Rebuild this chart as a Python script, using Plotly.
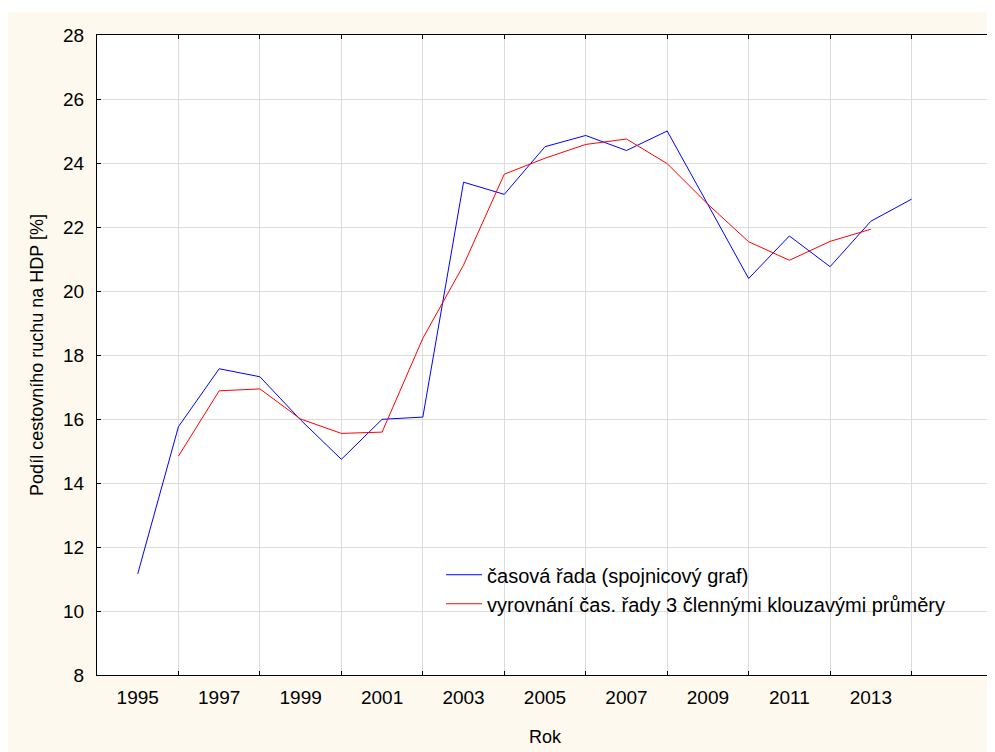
import plotly.graph_objects as go

years = list(range(1995, 2015))
casova_rada = [11.16, 15.76, 17.57, 17.32, 15.97, 14.74, 15.99, 16.06, 23.40, 23.02,
               24.51, 24.86, 24.39, 25.00, 22.70, 20.39, 21.72, 20.76, 22.18, 22.87]
ma_years = list(range(1996, 2014))
klouzave_prumery = [14.84, 16.88, 16.94, 16.00, 15.55, 15.59, 18.52, 20.81, 23.65, 24.15,
                    24.58, 24.75, 23.98, 22.71, 21.54, 20.96, 21.55, 21.93]
x_labels = [1995, 1997, 1999, 2001, 2003, 2005, 2007, 2009, 2011, 2013]
x_grid = [1996, 1998, 2000, 2002, 2004, 2006, 2008, 2010, 2012, 2014]

FONT = "Liberation Sans, Arial, sans-serif"
GRID = "#DCDCDC"
CREAM = "#FEF9EE"

fig = go.Figure()
fig.add_trace(go.Scatter(x=years, y=casova_rada, mode="lines",
                         line=dict(color="#0000FF", width=1),
                         name="časová řada (spojnicový graf)"))
fig.add_trace(go.Scatter(x=ma_years, y=klouzave_prumery, mode="lines",
                         line=dict(color="#FF0000", width=1),
                         name="vyrovnání čas. řady 3 člennými klouzavými průměry"))

fig.update_layout(
    width=987, height=744,
    margin=dict(l=89, r=2, t=27, b=77, autoexpand=False),
    paper_bgcolor=CREAM, plot_bgcolor="white",
    font=dict(family=FONT, size=18, color="black"),
    showlegend=True,
    legend=dict(x=0.384, y=0.134, xanchor="left", yanchor="middle",
                bgcolor="rgba(0,0,0,0)", borderwidth=0, itemwidth=36,
                font=dict(size=20), tracegroupgap=0),
    xaxis=dict(range=[1994, 2016], tickmode="array", tickvals=x_labels,
               ticktext=[str(v) for v in x_labels], automargin=False,
               ticks="", showgrid=False, zeroline=False,
               showline=True, linecolor="black", linewidth=1, mirror="ticks",
               ticklabelstandoff=5, tickfont=dict(size=19),
               minor=dict(tickmode="array", tickvals=x_grid, ticks="inside",
                          ticklen=4, tickcolor="black", showgrid=True,
                          gridcolor=GRID, gridwidth=1),
               title=dict(text="Rok", standoff=23, font=dict(size=18))),
    yaxis=dict(range=[8, 28], tickmode="linear", tick0=8, dtick=2,
               ticks="inside", ticklen=4, tickcolor="black", automargin=False,
               showgrid=True, gridcolor=GRID, gridwidth=1, zeroline=False,
               showline=True, linecolor="black", linewidth=1, mirror="ticks",
               ticklabelstandoff=8, tickfont=dict(size=19),
               title=dict(text="Podíl cestovního ruchu na HDP [%]", standoff=14,
                          font=dict(size=18))),
    shapes=[
        dict(type="rect", xref="paper", yref="paper", x0=-0.2, x1=1.1,
             y0=1 + 23 / 640, y1=1 + 28 / 640, fillcolor="white",
             line=dict(width=0), layer="below"),
    ],
)

fig.write_html("out.html")
